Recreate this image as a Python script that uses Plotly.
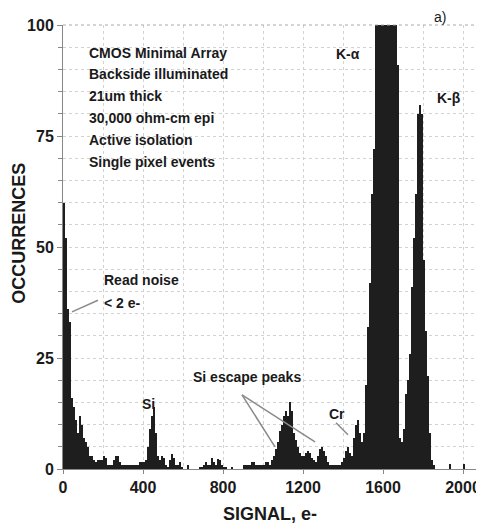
import plotly.graph_objects as go

# Histogram bins: start of each 10 e- bin, 0 .. 2040
bin_width = 10
bin_starts = list(range(0, 2050, 10))

counts = [
    # 0-190
    60, 52, 36, 33, 16, 14, 11, 8, 12, 10, 7, 6, 5, 3, 3, 2, 1.5, 2, 2, 2,
    # 200-390
    3, 2.5, 1, 1, 1, 2, 3, 3, 1.5, 1, 1, 0.8, 0.8, 0.8, 0.8, 1, 1, 1, 1.5, 1.5,
    # 400-590
    1.5, 2, 5, 9, 12, 14, 8, 3, 2, 3, 2.5, 1, 0.5, 2, 3.4, 2.5, 1, 1, 1.5, 0.5,
    # 600-790
    0, 0, 1, 0, 0, 0, 0, 0, 0.5, 0.5, 1, 1.5, 1, 1, 2.5, 1.5, 1, 2.3, 2, 1,
    # 800-990
    0.5, 0.5, 0, 0, 0.5, 0, 0, 0, 0, 0, 1, 1, 1, 1, 1.5, 1.5, 1, 1, 1, 1,
    # 1000-1190
    1, 1.5, 1.5, 1, 2, 3, 4.5, 6, 8.5, 10, 12, 13, 12, 15, 13, 8, 6.5, 5, 3.5, 3,
    # 1200-1390
    3, 3.5, 4, 3.5, 2.5, 2, 1.5, 3, 4.5, 5, 4, 3, 1.5, 1, 1, 1, 0.8, 0.8, 1, 1.5,
    # 1400-1590
    2.5, 4, 5, 3.5, 3, 7, 10, 11, 8, 6, 8, 19, 32, 42, 62, 72, 150, 150, 150, 150,
    # 1600-1790
    150, 150, 150, 150, 150, 150, 120, 91, 7, 6, 9, 17, 20, 26, 41, 52, 62, 80, 82, 80,
    # 1800-1990
    47, 31, 21, 8, 2, 1, 0, 0, 0, 0, 0, 0, 0, 1.2, 0, 0, 0, 0, 0, 0,
    # 2000-2040
    1.2, 0, 0, 0, 0,
]

x_ticks = [0, 400, 800, 1200, 1600, 2000]
y_ticks = [0, 25, 50, 75, 100]

info_lines = [
    "CMOS Minimal Array",
    "Backside illuminated",
    "21um thick",
    "30,000 ohm-cm epi",
    "Active isolation",
    "Single pixel events",
]

centers = [s + bin_width / 2 for s in bin_starts]

fig = go.Figure()
fig.add_trace(go.Bar(
    x=centers, y=counts, width=bin_width,
    marker=dict(color="#1e1e1e", line=dict(width=0)),
    hoverinfo="skip",
))

FONT = "Liberation Sans, Arial, sans-serif"
grid_col = "#d2d2d2"

# page body adds an 8px margin, so the figure is sized to fit inside it
fig.update_layout(
    width=476, height=516,
    margin=dict(l=55, r=7, t=17, b=55),
    paper_bgcolor="white", plot_bgcolor="white",
    showlegend=False, bargap=0,
    font=dict(family=FONT, color="#1a1a1a"),
)

fig.update_xaxes(
    range=[0, 2070], tickvals=x_ticks, automargin=False,
    tickfont=dict(size=16, family=FONT, weight="bold"),
    showgrid=True, gridcolor=grid_col, griddash="dot", gridwidth=1,
    minor=dict(dtick=200, showgrid=True, gridcolor=grid_col, griddash="dot"),
    showline=True, linecolor="#888", linewidth=1,
    ticks="outside", ticklen=4, tickcolor="#888",
    zeroline=False,
    title=dict(text="SIGNAL, e-", font=dict(size=18, family=FONT, weight="bold"), standoff=14),
)
fig.update_yaxes(
    range=[0, 100], tickvals=y_ticks, automargin=False,
    tickfont=dict(size=16, family=FONT, weight="bold"),
    showgrid=True, gridcolor=grid_col, griddash="dot", gridwidth=1,
    minor=dict(dtick=5, showgrid=True, gridcolor=grid_col, griddash="dot",
               ticks="outside", ticklen=4, tickcolor="#888"),
    showline=True, linecolor="#888", linewidth=1,
    ticks="outside", ticklen=5, tickcolor="#888",
    zeroline=False, mirror=False,
)

# y-axis title placed as a rotated annotation (sits above the axis centre)
fig.add_annotation(text="OCCURRENCES", xref="paper", yref="paper",
                   x=-0.106, y=0.53, textangle=-90, showarrow=False,
                   xanchor="center", yanchor="middle",
                   font=dict(size=18, family=FONT, weight="bold", color="#1a1a1a"))

# top border (dashed in original)
fig.add_shape(type="line", xref="paper", yref="paper", x0=0, x1=1, y0=1, y1=1,
              line=dict(color="#aaa", width=1, dash="dot"))

ann_font = dict(size=14, family=FONT, weight="bold", color="#1a1a1a")
line_y = [93.7, 88.9, 84.0, 79.1, 74.2, 69.1]
for txt, yy in zip(info_lines, line_y):
    fig.add_annotation(x=120, y=yy, text=txt, showarrow=False, xanchor="left",
                       yanchor="middle", font=ann_font)

labels = [
    (1355, 93.5, "K-α"),
    (1860, 83.6, "K-β"),
    (195, 42.5, "Read noise"),
    (195, 37.5, "< 2 e-"),
    (385, 14.6, "Si"),
    (640, 20.8, "Si escape peaks"),
    (1320, 12.5, "Cr"),
]
for xx, yy, txt in labels:
    fig.add_annotation(x=xx, y=yy, text=txt, showarrow=False, xanchor="left",
                       yanchor="middle", font=ann_font)

# panel label above the plot frame
fig.add_annotation(x=1845, xref="x", y=1.018, yref="paper", text="a)",
                   showarrow=False, xanchor="left", yanchor="middle",
                   font=dict(size=14, family=FONT, color="#1a1a1a"))

pointer_col = "#8a8a8a"
pointers = [
    (175, 38, 45, 35.4),
    (895, 16.7, 1060, 5),
    (895, 16.7, 1260, 6.1),
    (1365, 10.4, 1425, 7.7),
]
for x0, y0, x1, y1 in pointers:
    fig.add_shape(type="line", x0=x0, y0=y0, x1=x1, y1=y1,
                  line=dict(color=pointer_col, width=1.5))

fig.write_html("out.html")
